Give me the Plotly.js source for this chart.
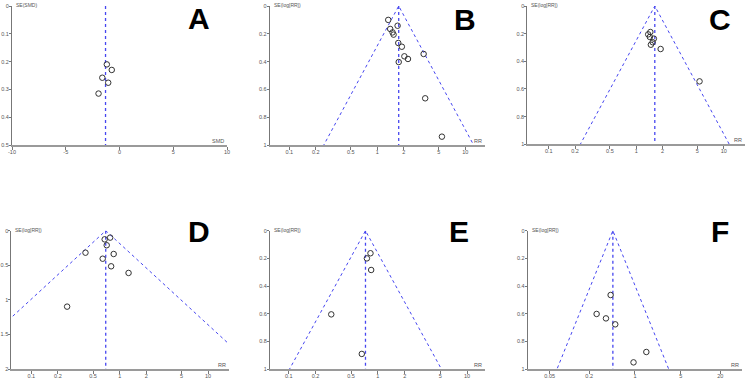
<!DOCTYPE html>
<html>
<head>
<meta charset="utf-8">
<script src="https://cdn.plot.ly/plotly-3.0.1.min.js"></script>
<style>html,body{margin:0;padding:0;background:#fff;}#chart{width:747px;height:378px;}</style>
</head>
<body>
<div id="chart"></div>
<script>
// ---- data ----
const panelLetters = ["A", "B", "C", "D", "E", "F"];
const pooled = [-1.3, 1.75, 1.63, 0.695, 0.726, 0.46];   // vertical line position (SMD for A, RR for others)

const A_smd = [-1.18, -0.72, -1.6, -1.05, -1.95];
const A_se  = [0.21, 0.23, 0.258, 0.276, 0.315];

const B_rr = [1.33, 1.70, 1.40, 1.49, 1.53, 1.73, 1.90, 2.03, 2.23, 3.36, 1.75, 3.5, 5.42];
const B_se = [0.10, 0.142, 0.165, 0.19, 0.206, 0.266, 0.293, 0.362, 0.381, 0.345, 0.403, 0.664, 0.94];

const C_rr = [1.45, 1.37, 1.43, 1.59, 1.54, 1.47, 1.90, 5.29];
const C_se = [0.188, 0.205, 0.224, 0.236, 0.262, 0.28, 0.311, 0.545];

const D_rr = [0.78, 0.676, 0.713, 0.41, 0.855, 0.642, 0.80, 1.26, 0.254];
const D_se = [0.10, 0.125, 0.21, 0.318, 0.337, 0.405, 0.515, 0.611, 1.098];

const E_rr = [0.826, 0.753, 0.841, 0.30, 0.66];
const E_se = [0.163, 0.20, 0.284, 0.605, 0.891];

const F_rr = [0.425, 0.26, 0.361, 0.50, 1.49, 0.95];
const F_se = [0.465, 0.602, 0.634, 0.677, 0.877, 0.952];

const rrTicks = [0.1, 0.2, 0.5, 1, 2, 5, 10];
const rrTickText = ["0.1", "0.2", "0.5", "1", "2", "5", "10"];
const fTicks = [0.05, 0.2, 1, 5, 20];
const fTickText = ["0.05", "0.2", "1", "5", "20"];
const smdTicks = [-10, -5, 0, 5, 10];
const seTicksA = [0, 0.1, 0.2, 0.3, 0.4, 0.5];
const seTicks = [0, 0.2, 0.4, 0.6, 0.8, 1];
const seTicksD = [0, 0.5, 1, 1.5, 2];
const yTitles = ["SE(SMD)", "SE(log[RR])", "SE(log[RR])", "SE(log[RR])", "SE(log[RR])", "SE(log[RR])"];
const xTitles = ["SMD", "RR", "RR", "RR", "RR", "RR"];

// ---- layout geometry (pixels) ----
const W = 747, H = 378;
const geo = [
  {x0: 12,    x1: 227,   y0: 6,     y1: 145, xr: [-10, 10],        yr: [0.5, 0], log: false, xt: smdTicks, xtt: smdTicks.map(String), yt: seTicksA, seMax: 0.5},
  {x0: 269.7, x1: 485.3, y0: 6,     y1: 145, xr: [-1.223, 1.227],  yr: [1, 0],   log: true,  xt: rrTicks, xtt: rrTickText, yt: seTicks, seMax: 1},
  {x0: 527.3, x1: 745,   y0: 6,     y1: 144.3, xr: [-1.245, 1.243], yr: [1, 0],  log: true,  xt: rrTicks, xtt: rrTickText, yt: seTicks, seMax: 1},
  {x0: 11.3,  x1: 228.7, y0: 230.7, y1: 369, xr: [-1.227, 1.234],  yr: [2, 0],   log: true,  xt: rrTicks, xtt: rrTickText, yt: seTicksD, seMax: 2},
  {x0: 270,   x1: 485.3, y0: 230.7, y1: 369, xr: [-1.21, 1.205],   yr: [1, 0],   log: true,  xt: rrTicks, xtt: rrTickText, yt: seTicks, seMax: 1},
  {x0: 527.7, x1: 742,   y0: 230.7, y1: 369, xr: [-1.636, 1.632],  yr: [1, 0],   log: true,  xt: fTicks, xtt: fTickText, yt: seTicks, seMax: 1}
];
const letterPos = [[199, 19], [465, 19.5], [720, 19.5], [199, 231], [459, 231], [720, 231]];

const xs = [A_smd, B_rr, C_rr, D_rr, E_rr, F_rr];
const ys = [A_se, B_se, C_se, D_se, E_se, F_se];

const funnelBlue = "#4646f0";
const traces = [];
const layout = {
  width: W, height: H,
  margin: {l: 0, r: 0, t: 0, b: 0},
  paper_bgcolor: "#fff", plot_bgcolor: "#fff",
  showlegend: false,
  font: {family: "Liberation Sans, Arial, sans-serif", size: 6, color: "#444"},
  annotations: []
};

for (let i = 0; i < 6; i++) {
  const g = geo[i];
  const sfx = i === 0 ? "" : String(i + 1);
  const xa = "x" + sfx, ya = "y" + sfx;
  const c = pooled[i];

  // vertical line at pooled estimate
  traces.push({x: [c, c], y: [0, g.seMax], xaxis: xa, yaxis: ya, mode: "lines",
    line: {color: funnelBlue, width: 1.3, dash: "dot"}, hoverinfo: "skip"});
  // funnel (95% pseudo-confidence limits) for RR panels
  if (g.log) {
    const sMax = 2;
    traces.push({x: [c * Math.exp(-1.96 * sMax), c, c * Math.exp(1.96 * sMax)], y: [sMax, 0, sMax],
      xaxis: xa, yaxis: ya, mode: "lines",
      line: {color: funnelBlue, width: 1, dash: "dot"}, hoverinfo: "skip"});
  }
  // study points
  traces.push({x: xs[i], y: ys[i], xaxis: xa, yaxis: ya, mode: "markers",
    marker: {symbol: "circle-open", size: 5.5, color: "#333", line: {width: 1, color: "#333"}}});

  layout["xaxis" + sfx] = {
    domain: [g.x0 / W, g.x1 / W], anchor: ya,
    type: g.log ? "log" : "linear", range: g.xr,
    tickmode: "array", tickvals: g.xt, ticktext: g.xtt,
    showgrid: false, zeroline: false, showline: true, linecolor: "#9a9a9a", linewidth: 2,
    ticks: "outside", ticklen: 3, tickcolor: "#777", tickwidth: 1,
    ticklabelstandoff: -3,
    tickfont: {size: 5.5, color: "#555"}, fixedrange: true
  };
  layout["yaxis" + sfx] = {
    domain: [1 - g.y1 / H, 1 - g.y0 / H], anchor: xa,
    range: g.yr, tickmode: "array", tickvals: g.yt,
    showgrid: false, zeroline: false, showline: true, linecolor: "#777", linewidth: 1,
    ticks: "outside", ticklen: 2, tickcolor: "#777", tickwidth: 1,
    ticklabelstandoff: -1,
    tickfont: {size: 5.5, color: "#555"}, fixedrange: true
  };
  // axis captions
  layout.annotations.push({xref: "paper", yref: "paper", x: (g.x0 + 2) / W, y: 1 - (g.y0 - 1) / H,
    xanchor: "left", yanchor: "middle", showarrow: false, text: yTitles[i],
    font: {size: 5, color: "#555"}});
  layout.annotations.push({xref: "paper", yref: "paper", x: (g.x1 - 1) / W, y: 1 - (g.y1 - 4) / H,
    xanchor: "right", yanchor: "middle", showarrow: false, text: xTitles[i],
    font: {size: 5.5, color: "#555"}});
  // panel letter
  layout.annotations.push({xref: "paper", yref: "paper", x: letterPos[i][0] / W, y: 1 - letterPos[i][1] / H,
    xanchor: "center", yanchor: "middle", showarrow: false, text: "<b>" + panelLetters[i] + "</b>",
    font: {size: 30, color: "#000", family: "Liberation Sans, Arial, sans-serif"}});
}

Plotly.newPlot("chart", traces, layout, {staticPlot: true, displayModeBar: false});
</script>
</body>
</html>
